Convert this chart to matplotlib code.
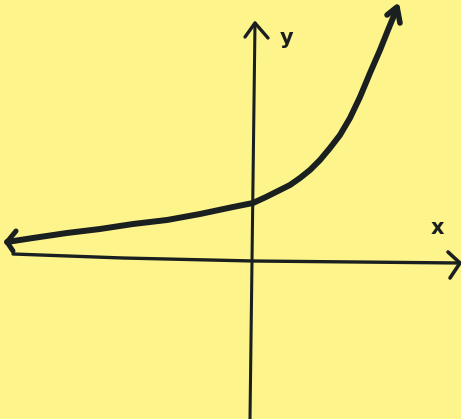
import matplotlib
matplotlib.use('Agg')
import matplotlib.pyplot as plt

# hand-drawn exponential curve, data units (origin at the axes crossing)
curve_x = [-4.92, -4.40, -3.72, -3.06, -2.40, -1.72, -1.06, -0.40, 0.0, 0.26, 0.54, 0.74, 0.94,
           1.14, 1.34, 1.54, 1.74, 1.94, 2.14, 2.34, 2.54, 2.70, 2.84, 2.88]
curve_y = [0.36, 0.44, 0.54, 0.62, 0.72, 0.80, 0.92, 1.06, 1.14, 1.26, 1.40, 1.50, 1.64,
           1.80, 2.00, 2.24, 2.50, 2.84, 3.26, 3.74, 4.20, 4.60, 4.94, 5.04]

# arrow heads on the curve ends: wing, tip, wing
left_head_x = [-4.74, -4.92, -4.80]
left_head_y = [0.58, 0.36, 0.18]
top_head_x = [2.68, 2.88, 2.94]
top_head_y = [4.90, 5.06, 4.74]

# axes lines as drawn by hand
xaxis_x = [-4.80, -2.60, 0.0, 4.14]
xaxis_y = [0.12, 0.04, -0.02, -0.06]
yaxis_x = [0.04, -0.06]
yaxis_y = [4.74, -3.18]
xhead_x = [3.90, 4.14, 3.94]
xhead_y = [0.16, -0.06, -0.36]
yhead_x = [-0.16, 0.04, 0.30]
yhead_y = [4.46, 4.74, 4.44]

paper = '#fdf48c'
ink = '#1a1f1f'

fig = plt.figure(figsize=(4.61, 4.19), dpi=100)
fig.patch.set_facecolor(paper)
ax = fig.add_axes([0, 0, 1, 1])
ax.set_facecolor(paper)
ax.set_xlim(-5.06, 4.16)
ax.set_ylim(-3.18, 5.2)
ax.axis('off')

ax.plot(xaxis_x, xaxis_y, color=ink, lw=2.4, solid_capstyle='round')
ax.plot(yaxis_x, yaxis_y, color=ink, lw=2.2, solid_capstyle='round')
ax.plot(xhead_x, xhead_y, color=ink, lw=2.6, solid_capstyle='round', solid_joinstyle='round')
ax.plot(yhead_x, yhead_y, color=ink, lw=2.4, solid_capstyle='round', solid_joinstyle='round')

ax.plot(curve_x, curve_y, color=ink, lw=4.3, solid_capstyle='round', solid_joinstyle='round')
ax.plot(left_head_x, left_head_y, color=ink, lw=3.6, solid_capstyle='round', solid_joinstyle='round')
ax.plot(top_head_x, top_head_y, color=ink, lw=4.0, solid_capstyle='round', solid_joinstyle='round')

ax.text(3.68, 0.64, 'x', fontsize=15, fontweight='bold', color=ink, ha='center', va='center')
ax.text(0.68, 4.44, 'y', fontsize=15, fontweight='bold', color=ink, ha='center', va='center')

fig.savefig('out.png', dpi=100, facecolor=paper)
